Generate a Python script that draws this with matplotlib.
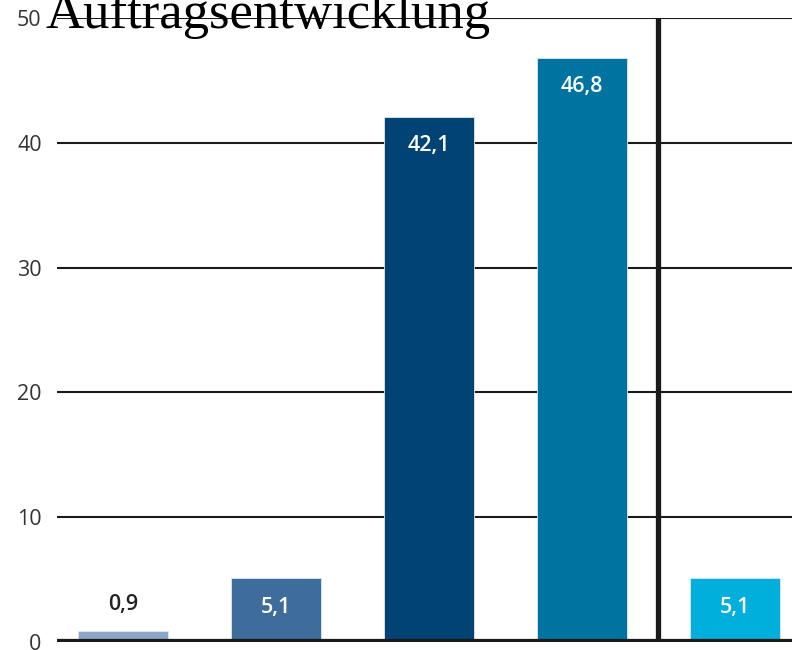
import matplotlib
matplotlib.use("Agg")
import matplotlib.pyplot as plt

# ---------------- DATA ----------------
values = [0.9, 5.1, 42.1, 46.8, 5.1]
labels = ["0,9", "5,1", "42,1", "46,8", "5,1"]
colors = ["#8FA5C7", "#3E6D9C", "#004374", "#0073A0", "#00AFDC"]
label_inside = [False, True, True, True, True]
y_ticks = [0, 10, 20, 30, 40, 50]
title = "Auftragsentwicklung"

plt.rcParams["font.family"] = ["Open Sans", "DejaVu Sans"]

fig = plt.figure(figsize=(7.92, 6.5), dpi=100, facecolor="white")
ax = fig.add_axes([57 / 792, 8 / 650, 1 - 57 / 792, 624 / 650])

x = list(range(len(values)))

# gridlines behind bars
for t in y_ticks[1:]:
    ax.axhline(t, color="#1a1a1a", linewidth=1.5, zorder=1)

ax.bar(x, values, width=0.59, color=colors, edgecolor="#dfe8f0",
       linewidth=0.6, zorder=2)

# separator between the two groups
ax.axvline(3.5, color="#1a1a1a", linewidth=3.8, zorder=3)
ax.axhline(0, color="#1a1a1a", linewidth=4.5, zorder=3)

for xi, v, lab, inside in zip(x, values, labels, label_inside):
    if inside:
        ax.text(xi, v - 2.3, lab, ha="center", va="center", color="white",
                fontsize=15.5, fontweight="semibold", zorder=4)
    else:
        ax.text(xi, v + 2.1, lab, ha="center", va="center", color="#222222",
                fontsize=15.5, fontweight="semibold", zorder=4)

ax.set_xlim(-0.431, 4.373)
ax.set_ylim(0, 50)
ax.set_yticks(y_ticks)
ax.set_yticklabels([str(t) for t in y_ticks], fontsize=15.5, color="#333333")
ax.tick_params(axis="y", length=0, pad=11)
ax.set_xticks([])
for s in ax.spines.values():
    s.set_visible(False)

fig.text(45 / 792, 1 - 28 / 650, title, family="Liberation Serif", fontsize=38,
         color="black", ha="left", va="baseline")

fig.savefig("out.png", dpi=100, facecolor="white")
